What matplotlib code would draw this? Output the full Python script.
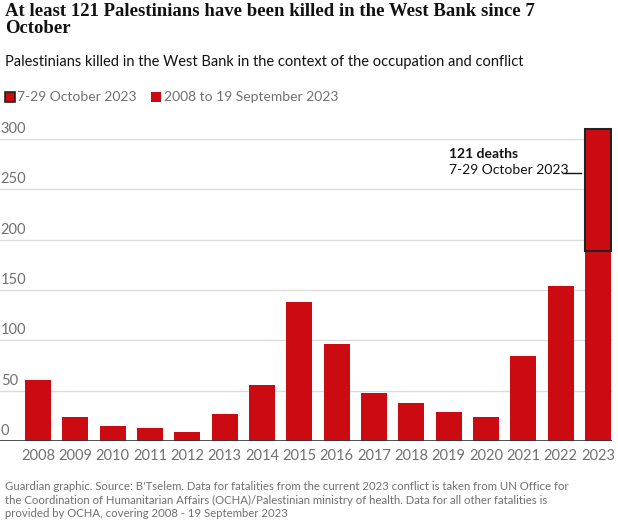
import matplotlib
matplotlib.use("Agg")
import matplotlib.pyplot as plt

# data
years = ["2008", "2009", "2010", "2011", "2012", "2013", "2014", "2015",
         "2016", "2017", "2018", "2019", "2020", "2021", "2022", "2023"]
before = [61, 24, 15, 13, 9, 27, 56, 138, 96, 48, 38, 29, 24, 84, 154, 189]
october_2023 = 121
yticks = [0, 50, 100, 150, 200, 250, 300]

RED = "#cc0a11"
GREY = "#707070"
plt.rcParams["font.family"] = ["Lato", "DejaVu Sans"]

fig = plt.figure(figsize=(6.18, 5.26), dpi=100)
ax = fig.add_axes([0.0, (526 - 441) / 526, 612 / 618, 317 / 526])

x = list(range(len(years)))
ax.bar(x, before, width=0.7, color=RED, zorder=3)
ax.bar([x[-1]], [october_2023], bottom=[before[-1]], width=0.7, color=RED,
       edgecolor="#222222", linewidth=1.5, zorder=4)

ax.set_xlim(-1.02, 15.375)
ax.set_ylim(0, 315)
for t in yticks:
    ax.axhline(t, color="#dcdcdc", linewidth=1, zorder=1)
    ax.text(-1.0, t + 3, str(t), color=GREY, fontsize=10.5, ha="left", va="bottom")
ax.axhline(0, color="#333333", linewidth=1.2, zorder=5)

ax.set_yticks([])
ax.set_xticks(x)
ax.set_xticklabels(years, color=GREY, fontsize=10.5)
ax.tick_params(axis="x", length=0, pad=6)
for s in ax.spines.values():
    s.set_visible(False)

# annotation for the October deaths
ax.text(11.0, 281, "121 deaths", fontsize=10, fontweight="bold", color="#121212")
ax.text(11.0, 265, "7-29 October 2023", fontsize=10, color="#121212")
ax.plot([14.05, 14.55], [266, 266], color="#121212", linewidth=1)

fig.text(0.008, 0.995, "At least 121 Palestinians have been killed in the West Bank since 7\nOctober",
         fontsize=13.5, fontweight="bold", family="Liberation Serif", va="top",
         color="#121212", linespacing=1.0)
fig.text(0.008, 0.882, "Palestinians killed in the West Bank in the context of the occupation and conflict",
         fontsize=10.5, color="#121212", va="center")

# legend
fig.patches.append(plt.Rectangle((0.008, 0.806), 0.016, 0.019, transform=fig.transFigure,
                                 facecolor=RED, edgecolor="#222222", linewidth=1.2))
fig.text(0.027, 0.815, "7-29 October 2023", fontsize=10, color=GREY, va="center")
fig.patches.append(plt.Rectangle((0.245, 0.806), 0.016, 0.019, transform=fig.transFigure,
                                 facecolor=RED, edgecolor="none"))
fig.text(0.266, 0.815, "2008 to 19 September 2023", fontsize=10, color=GREY, va="center")

fig.text(0.008, 0.085,
         "Guardian graphic. Source: B'Tselem. Data for fatalities from the current 2023 conflict is taken from UN Office for\n"
         "the Coordination of Humanitarian Affairs (OCHA)/Palestinian ministry of health. Data for all other fatalities is\n"
         "provided by OCHA, covering 2008 - 19 September 2023",
         fontsize=8.2, color=GREY, va="top", linespacing=1.25)

fig.savefig("out.png", dpi=100)
